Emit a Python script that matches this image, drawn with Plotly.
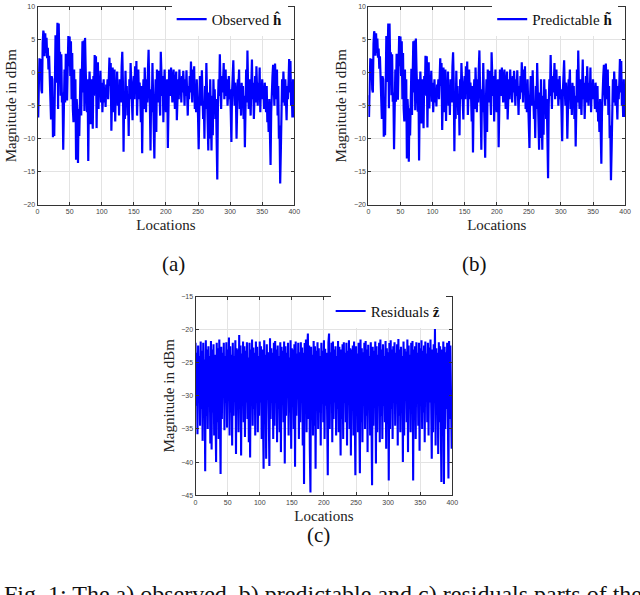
import plotly.graph_objects as go

# x positions (sample index)
locations = list(range(400))

observed = [
    -3.5, -6.8, -2.0, 2.2, 0.5, 2.1, -2.6, -3.1, 4.5, 6.4,
    5.8, 2.5, 6.0, 3.0, 5.3, 2.2, 3.8, 0.5, 2.6, -0.8,
    -4.0, -7.1, -0.5, -1.0, -9.8, -7.0, -9.6, -0.5, 5.7, -1.5,
    6.0, 7.6, -5.5, 7.5, 1.0, 3.2, -3.5, 2.8, -4.5, -3.0,
    -11.7, -6.0, 0.5, -4.5, 2.9, -2.0, -4.2, 1.0, 5.6, 1.0,
    5.5, -0.5, 4.8, -4.0, 3.0, -5.5, -7.5, 0.5, -7.3, -1.0,
    -13.2, -4.0, -6.0, -13.7, -5.5, -9.6, -1.0, 0.6, -6.5, -1.5,
    4.8, -3.0, 4.9, -5.8, 5.3, 0.5, -2.5, -6.0, -1.0, -13.4,
    -4.0, 0.2, -2.5, -7.8, -1.0, -4.5, -8.5, -0.5, -3.5, 2.7,
    -2.0, 2.5, -8.4, -1.0, 1.6, -5.5, -0.5, -3.0, 0.3, -4.5,
    -1.5, -6.0, -3.0, -1.0, -4.5, -2.5, -5.2, -1.8, -3.5, -1.0,
    -4.0, 1.0, 2.3, -2.0, 1.5, -8.8, -3.5, 0.8, -2.5, -6.0,
    0.5, -7.4, -1.5, -3.5, 0.2, -5.0, -2.0, -6.5, -1.0, -3.0,
    -4.5, 1.0, 3.2, -1.5, -12.0, -3.0, -7.0, 0.3, -4.5, -2.0,
    -6.5, -3.5, -9.6, -1.0, -4.0, 1.5, -3.0, -5.5, -7.2, -2.0,
    -0.5, -4.0, 1.0, -3.0, 1.8, -6.5, -2.5, 0.5, -4.0, -1.5,
    -3.5, -7.5, -2.0, -12.2, -4.0, -1.0, -5.5, 0.8, -3.0, -6.0,
    -1.0, -4.5, 0.5, 3.5, -2.0, -5.0, -11.8, -2.5, -6.0, 1.5,
    -3.5, -8.0, -13.0, -5.0, -1.0, -9.0, 0.5, -4.5, -2.0, 0.3,
    -3.0, -6.5, 3.2, -1.5, -3.5, -0.5, -7.5, -2.5, 0.5, -4.0,
    -6.0, -2.0, -1.0, -11.4, -4.0, 0.5, -2.5, -3.5, 0.8, -2.0,
    -4.5, -1.0, 0.5, -3.0, -5.5, -2.0, 0.2, -7.2, -3.0, -1.0,
    -4.0, 0.5, -2.5, -1.5, -4.5, -0.5, -3.0, 0.3, -2.0, -5.0,
    -1.0, -3.5, 0.4, -2.5, -6.5, -2.0, -4.0, -0.5, -3.0, 1.7,
    -2.0, -4.5, 0.5, -3.0, 1.0, -5.5, -2.5, -6.0, -1.0, -3.5,
    -6.5, -11.6, -4.0, -0.5, -2.5, -5.0, 0.4, -3.0, -7.0, -4.5,
    -10.0, -2.0, -5.5, 1.5, -4.0, -8.0, -11.8, -3.0, -10.0, -1.0,
    -6.0, -11.8, -3.5, -9.5, -1.0, -5.0, -2.5, -7.0, -4.0, -9.0,
    -16.2, -5.0, -1.0, -3.5, 2.8, -2.0, -5.5, -0.5, -3.0, -1.5,
    1.5, -4.0, -2.5, 0.5, -3.5, -1.0, -5.0, -2.0, -0.5, -4.0,
    -2.5, -6.0, -10.5, -3.0, -0.5, 1.9, -2.5, -5.0, -1.5, -3.5,
    -10.0, -4.0, -1.0, -2.0, 0.5, -5.5, -3.0, -6.5, -1.5, -4.0,
    -2.0, -7.0, -3.5, -11.3, -1.0, 0.5, -4.5, 3.4, -2.0, -5.5,
    -1.0, -3.0, -6.5, -2.0, 2.0, -4.0, -1.5, -7.0, -3.0, -0.5,
    -4.5, 1.0, -2.5, -5.0, -1.5, -3.5, 0.8, -6.0, -2.0, -4.0,
    -1.0, -3.5, -2.5, -5.5, -1.5, -3.0, -6.0, -2.0, -7.5, -5.0,
    -9.0, -4.0, -13.8, -14.0, -6.0, -2.0, -0.5, 1.2, -3.5, -5.0,
    1.4, -1.5, -4.0, 0.5, -6.5, -2.0, -10.0, -8.0, -16.8, -12.0,
    -3.0, -1.0, -4.5, 0.2, -2.5, -5.0, -1.0, -3.0, -7.2, -2.0,
    -4.0, -1.5, 2.1, -3.0, 1.8, -5.0, -2.5, -6.8, -1.0, -6.8,
]

predictable = [
    -3.4, -6.7, -2.0, 2.2, 0.6, 2.1, -2.5, -3.0, 4.4, 6.3,
    5.8, 2.6, 6.0, 3.0, 5.2, 2.3, 3.7, 0.6, 2.5, -0.7,
    -4.0, -7.0, -0.5, -1.0, -9.7, -7.0, -9.5, -0.5, 5.6, -1.4,
    6.0, 7.5, -5.4, 7.5, 1.0, 3.1, -3.4, 2.8, -4.4, -3.0,
    -11.6, -6.0, 0.5, -4.4, 2.9, -2.0, -4.1, 1.0, 5.6, 1.0,
    5.5, -0.5, 4.8, -4.0, 3.0, -5.4, -7.4, 0.5, -7.2, -1.0,
    -13.0, -4.0, -6.0, -13.5, -5.4, -9.5, -1.0, 0.6, -6.4, -1.5,
    4.8, -3.0, 4.9, -5.7, 5.2, 0.5, -2.5, -5.9, -1.0, -13.3,
    -4.0, 0.2, -2.5, -7.7, -1.0, -4.5, -8.4, -0.5, -3.5, 2.6,
    -2.0, 2.5, -8.3, -1.0, 1.6, -5.4, -0.5, -3.0, 0.3, -4.4,
    -1.5, -6.0, -3.0, -1.0, -4.5, -2.5, -5.1, -1.8, -3.5, -1.0,
    -4.0, 1.0, 2.2, -2.0, 1.5, -8.7, -3.5, 0.8, -2.5, -6.0,
    0.5, -7.3, -1.5, -3.5, 0.2, -5.0, -2.0, -6.4, -1.0, -3.0,
    -4.5, 1.0, 3.1, -1.5, -11.9, -3.0, -7.0, 0.3, -4.5, -2.0,
    -6.4, -3.5, -9.5, -1.0, -4.0, 1.5, -3.0, -5.5, -7.1, -2.0,
    -0.5, -4.0, 1.0, -3.0, 1.7, -6.4, -2.5, 0.5, -4.0, -1.5,
    -3.5, -7.4, -2.0, -12.1, -4.0, -1.0, -5.5, 0.8, -3.0, -6.0,
    -1.0, -4.5, 0.5, 3.4, -2.0, -5.0, -11.7, -2.5, -6.0, 1.5,
    -3.5, -8.0, -12.9, -5.0, -1.0, -9.0, 0.5, -4.5, -2.0, 0.3,
    -3.0, -6.4, 3.1, -1.5, -3.5, -0.5, -7.4, -2.5, 0.5, -4.0,
    -6.0, -2.0, -1.0, -11.3, -4.0, 0.5, -2.5, -3.5, 0.8, -2.0,
    -4.5, -1.0, 0.5, -3.0, -5.5, -2.0, 0.2, -7.1, -3.0, -1.0,
    -4.0, 0.5, -2.5, -1.5, -4.5, -0.5, -3.0, 0.3, -2.0, -5.0,
    -1.0, -3.5, 0.4, -2.5, -6.4, -2.0, -4.0, -0.5, -3.0, 1.6,
    -2.0, -4.5, 0.5, -3.0, 1.0, -5.5, -2.5, -6.0, -1.0, -3.5,
    -6.4, -11.4, -4.0, -0.5, -2.5, -5.0, 0.4, -3.0, -7.0, -4.5,
    -9.9, -2.0, -5.5, 1.5, -4.0, -8.0, -11.7, -3.0, -9.9, -1.0,
    -6.0, -11.7, -3.5, -9.4, -1.0, -5.0, -2.5, -7.0, -4.0, -9.0,
    -16.0, -5.0, -1.0, -3.5, 2.7, -2.0, -5.5, -0.5, -3.0, -1.5,
    1.5, -4.0, -2.5, 0.5, -3.5, -1.0, -5.0, -2.0, -0.5, -4.0,
    -2.5, -6.0, -10.4, -3.0, -0.5, 1.9, -2.5, -5.0, -1.5, -3.5,
    -10.0, -4.0, -1.0, -2.0, 0.5, -5.5, -3.0, -6.4, -1.5, -4.0,
    -2.0, -7.0, -3.5, -11.2, -1.0, 0.5, -4.5, 3.4, -2.0, -5.5,
    -1.0, -3.0, -6.4, -2.0, 2.0, -4.0, -1.5, -7.0, -3.0, -0.5,
    -4.5, 1.0, -2.5, -5.0, -1.5, -3.5, 0.8, -6.0, -2.0, -4.0,
    -1.0, -3.5, -2.5, -5.5, -1.5, -3.0, -6.0, -2.0, -7.4, -5.0,
    -9.0, -4.0, -13.7, -13.8, -6.0, -2.0, -0.5, 1.2, -3.5, -5.0,
    1.4, -1.5, -4.0, 0.5, -6.4, -2.0, -9.9, -8.0, -16.3, -11.8,
    -3.0, -1.0, -4.5, 0.2, -2.5, -5.0, -1.0, -3.0, -7.1, -2.0,
    -4.0, -1.5, 2.1, -3.0, 1.8, -5.0, -2.5, -6.7, -1.0, -6.7,
]

residuals = [
    -22.0, -31.5, -23.5, -35.8, -22.4, -29.0, -24.0, -34.5, -21.8, -32.0,
    -23.2, -36.8, -22.0, -30.5, -24.5, -41.4, -21.6, -33.0, -23.0, -35.0,
    -22.5, -31.0, -24.0, -37.2, -21.7, -38.1, -23.0, -32.5, -22.2, -36.0,
    -23.8, -30.2, -40.0, -22.0, -34.0, -22.8, -36.5, -21.5, -31.5, -41.8,
    -22.6, -33.5, -23.5, -29.5, -22.0, -35.2, -24.0, -31.0, -21.9, -34.8,
    -23.0, -30.0, -21.2, -36.0, -22.5, -32.5, -23.8, -37.5, -22.0, -33.0,
    -24.0, -29.5, -21.6, -38.8, -22.8, -31.5, -23.0, -35.5, -20.8, -32.0,
    -22.4, -39.0, -23.6, -30.5, -21.8, -34.0, -22.5, -36.2, -23.2, -31.0,
    -21.9, -33.5, -24.2, -37.0, -22.0, -39.3, -23.0, -30.0, -21.5, -34.5,
    -22.7, -32.0, -23.5, -36.0, -21.8, -30.5, -22.6, -35.5, -24.0, -33.0,
    -21.8, -31.0, -22.5, -36.5, -23.0, -34.0, -41.0, -21.6, -32.5, -23.8,
    -39.5, -22.2, -30.5, -23.4, -35.0, -40.6, -21.3, -33.5, -22.8, -31.0,
    -23.5, -36.5, -22.0, -34.5, -21.7, -30.5, -23.0, -37.0, -22.4, -32.0,
    -24.0, -35.5, -21.9, -38.5, -22.6, -31.0, -23.2, -34.0, -21.8, -40.2,
    -22.5, -33.0, -23.5, -30.0, -22.0, -36.0, -24.2, -32.5, -21.6, -38.0,
    -22.8, -31.5, -23.0, -35.0, -22.2, -40.7, -21.8, -33.0, -23.6, -30.5,
    -22.0, -36.5, -23.4, -34.0, -21.9, -31.0, -22.7, -37.5, -23.5, -43.3,
    -22.0, -32.0, -21.5, -35.5, -23.0, -20.6, -33.5, -22.4, -38.0, -44.6,
    -22.6, -31.0, -23.8, -36.0, -21.7, -34.5, -22.5, -41.0, -23.2, -30.5,
    -21.9, -35.0, -22.8, -32.5, -24.0, -37.5, -22.0, -30.0, -23.2, -34.0,
    -21.6, -36.5, -22.9, -31.5, -23.5, -33.0, -42.0, -22.0, -20.6, -35.0,
    -23.4, -30.5, -22.0, -37.0, -21.8, -33.5, -23.0, -31.0, -22.5, -36.0,
    -24.0, -32.0, -21.7, -35.5, -22.6, -30.0, -39.0, -23.0, -33.5, -22.2,
    -36.5, -21.9, -31.0, -23.5, -34.0, -22.0, -37.5, -23.2, -30.5, -21.6,
    -35.0, -22.8, -39.0, -23.0, -32.0, -22.4, -36.0, -21.8, -33.5, -42.0,
    -22.5, -31.0, -23.6, -35.5, -22.0, -30.0, -41.7, -21.5, -34.0, -22.8,
    -37.0, -23.4, -31.5, -22.0, -35.0, -21.7, -33.0, -23.0, -38.5, -22.3,
    -30.5, -24.0, -36.0, -21.9, -32.5, -43.5, -22.6, -34.5, -23.2, -31.0,
    -21.8, -40.2, -22.5, -35.5, -23.8, -30.0, -22.0, -37.0, -21.5, -33.0,
    -23.0, -36.5, -22.2, -31.5, -24.0, -34.0, -21.7, -38.0, -22.8, -30.5,
    -23.4, -42.8, -22.0, -35.0, -21.6, -32.0, -23.0, -36.5, -22.5, -31.0,
    -21.9, -34.5, -23.5, -30.0, -22.2, -37.5, -21.4, -33.0, -23.0, -35.5,
    -22.6, -31.5, -24.0, -40.0, -21.8, -36.0, -22.9, -30.5, -23.3, -34.0,
    -21.5, -38.5, -22.4, -32.0, -23.8, -35.5, -22.0, -31.0, -21.7, -42.8,
    -23.0, -33.5, -22.5, -36.5, -21.9, -30.0, -23.5, -34.5, -22.0, -38.3,
    -22.8, -31.5, -21.6, -35.0, -23.2, -32.5, -22.4, -37.0, -21.8, -30.5,
    -23.6, -34.0, -22.0, -36.0, -22.7, -31.0, -21.5, -33.5, -39.5, -23.0,
    -35.5, -22.2, -30.5, -19.9, -37.5, -22.8, -32.0, -23.5, -38.8, -21.9,
    -34.0, -22.5, -36.5, -43.0, -23.0, -31.5, -21.8, -43.3, -22.6, -35.0,
    -23.4, -32.0, -22.0, -37.0, -42.5, -21.7, -33.5, -22.4, -36.0, -38.0,
]

x_ticks = [0, 50, 100, 150, 200, 250, 300, 350, 400]

BLUE = "#0000ff"
SERIF = "Liberation Serif, DejaVu Serif, serif"
SANS = "Liberation Sans, Arial, sans-serif"

fig = go.Figure()

fig.add_trace(go.Scatter(x=locations, y=observed, mode="lines",
                         line=dict(color=BLUE, width=2.2),
                         name="Observed <b>ĥ</b>", showlegend=True,
                         xaxis="x", yaxis="y", legend="legend"))
fig.add_trace(go.Scatter(x=locations, y=predictable, mode="lines",
                         line=dict(color=BLUE, width=2.2),
                         name="Predictable <b>h̃</b>", showlegend=True,
                         xaxis="x2", yaxis="y2", legend="legend2"))
fig.add_trace(go.Scatter(x=locations, y=residuals, mode="lines",
                         line=dict(color=BLUE, width=2.1),
                         name="Residuals <b>ẑ</b>", showlegend=True,
                         xaxis="x3", yaxis="y3", legend="legend3"))


def xaxis(domain, anchor):
    return dict(domain=domain, anchor=anchor, range=[0, 400],
                tickvals=x_ticks, showgrid=True, gridcolor="#e3e3e3",
                zeroline=False, showline=True, linecolor="#333333",
                linewidth=1, mirror="ticks", ticks="inside", ticklen=3,
                tickcolor="#333333",
                tickfont=dict(family=SANS, size=7, color="#444444"),
                title=dict(text="Locations", standoff=5,
                           font=dict(family=SERIF, size=15, color="#222222")))


def yaxis(domain, anchor, rng, dtick):
    return dict(domain=domain, anchor=anchor, range=rng, dtick=dtick,
                showgrid=True, gridcolor="#e3e3e3", zeroline=False,
                showline=True, linecolor="#333333", linewidth=1,
                mirror="ticks", ticks="inside", ticklen=3,
                tickcolor="#333333",
                tickfont=dict(family=SANS, size=7, color="#444444"),
                title=dict(text="Magnitude in dBm", standoff=3,
                           font=dict(family=SERIF, size=15, color="#222222")))


def legend_box(x, y):
    return dict(x=x, y=y, xanchor="right", yanchor="top",
                bgcolor="white", borderwidth=0, itemwidth=30,
                font=dict(family=SERIF, size=15, color="#111111"),
                tracegroupgap=0, visible=True)


fig.update_layout(
    width=640, height=595,
    margin=dict(l=0, r=0, t=0, b=0),
    paper_bgcolor="white", plot_bgcolor="white",
    showlegend=True,
    xaxis=xaxis([0.05625, 0.4625], "y"),
    yaxis=yaxis([0.659, 0.995], "x", [-20, 10], 5),
    xaxis2=xaxis([0.5797, 0.9859], "y2"),
    yaxis2=yaxis([0.659, 0.995], "x2", [-20, 10], 5),
    xaxis3=xaxis([0.30625, 0.7125], "y3"),
    yaxis3=yaxis([0.1647, 0.5025], "x3", [-45, -15], 5),
    legend=legend_box(0.452, 1.002),
    legend2=legend_box(0.975, 1.002),
    legend3=legend_box(0.702, 0.5055),
    annotations=[
        dict(text="(a)", x=160 / 640, y=1 - 263 / 595, xref="paper", yref="paper",
             showarrow=False, font=dict(family=SERIF, size=21, color="#111111")),
        dict(text="(b)", x=493 / 640, y=1 - 263 / 595, xref="paper", yref="paper",
             showarrow=False, font=dict(family=SERIF, size=21, color="#111111")),
        dict(text="(c)", x=320 / 640, y=1 - 551 / 595, xref="paper", yref="paper",
             showarrow=False, font=dict(family=SERIF, size=21, color="#111111")),
        dict(text="Fig. 1: The a) observed, b) predictable and c) residuals parts of the signal",
             x=0, y=1 - 582 / 595, xref="paper", yref="paper", xanchor="left",
             yanchor="top", showarrow=False,
             font=dict(family=SERIF, size=24, color="#111111")),
    ],
)

fig.write_html("out.html", config={"displayModeBar": False},
               post_script="document.body.style.margin='0';")
